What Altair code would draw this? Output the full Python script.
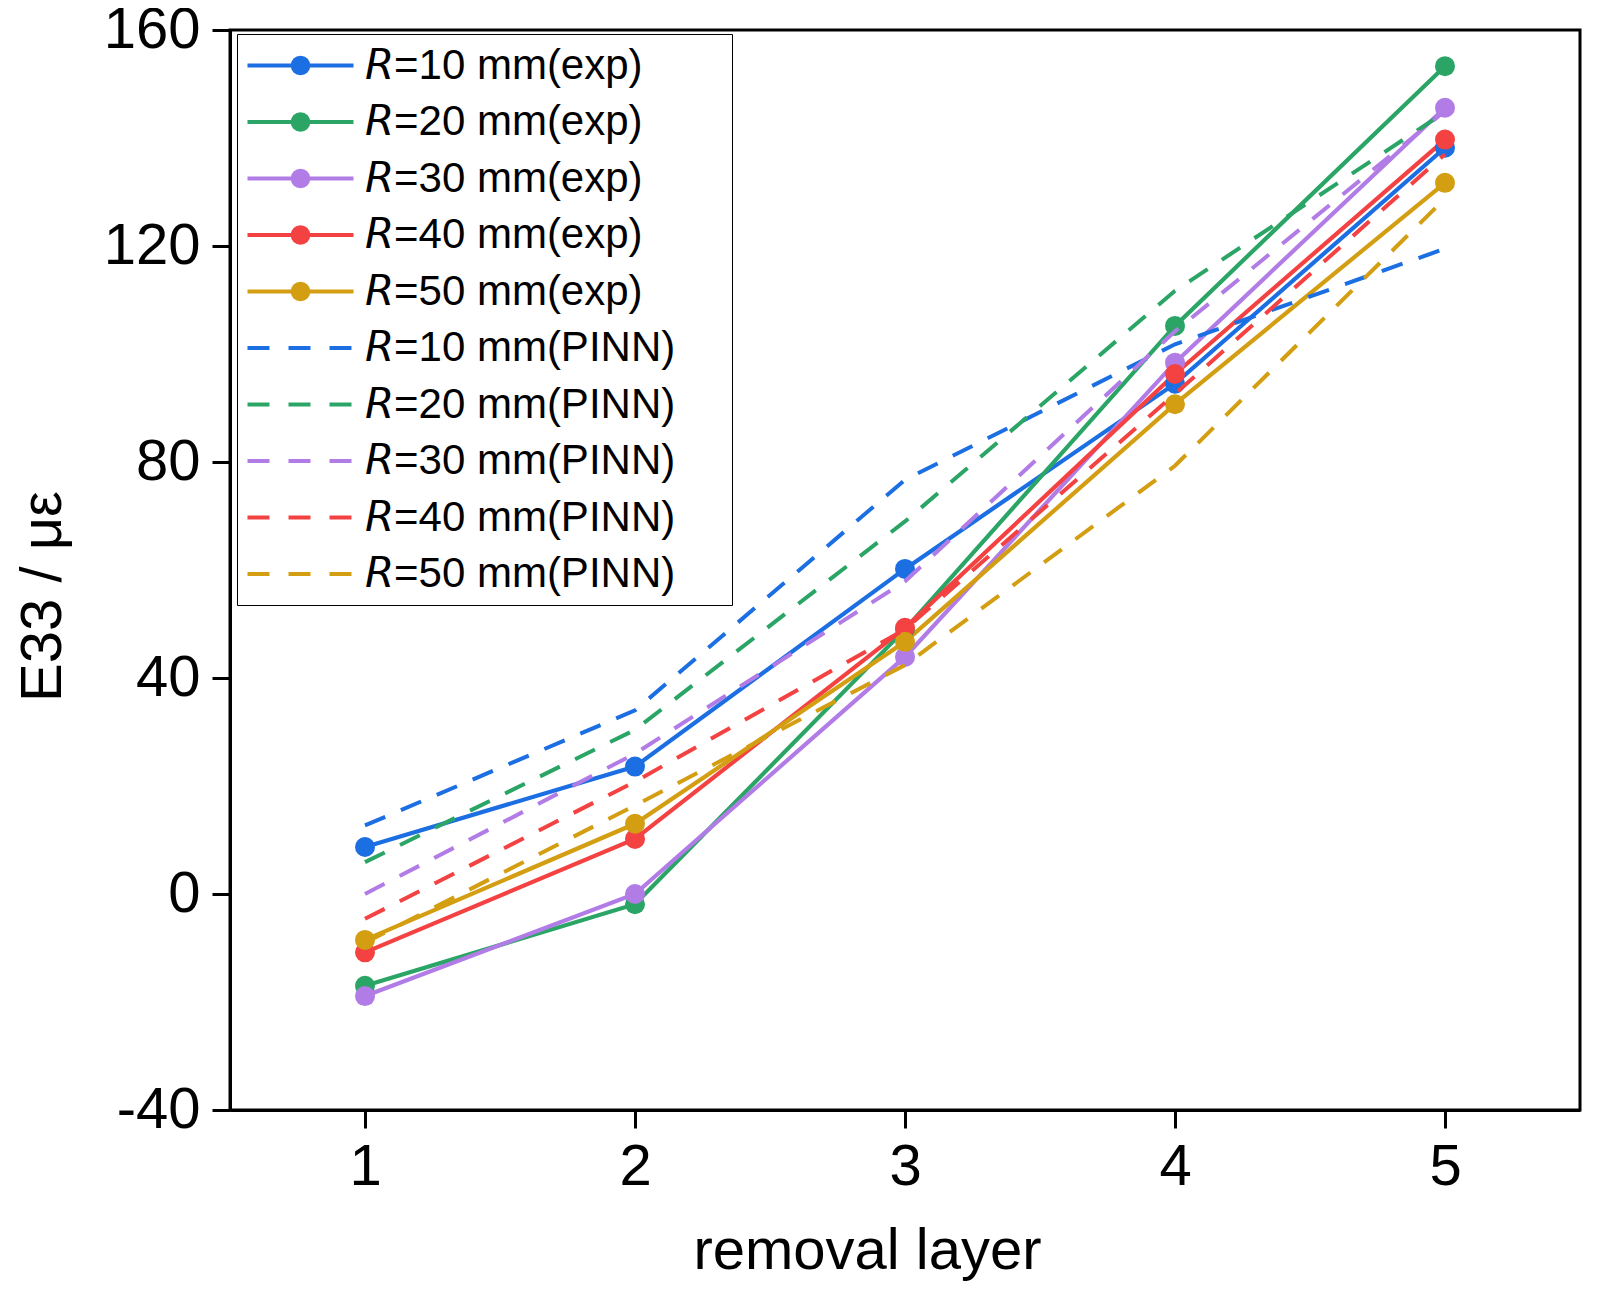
import math
import altair as alt
import pandas as pd

# ---------------- data ----------------
layers = [1, 2, 3, 4, 5]

exp_r10 = [8.7, 23.6, 60.2, 94.5, 138.2]
exp_r20 = [-17.0, -1.9, 49.0, 105.2, 153.3]
exp_r30 = [-18.9, 0.0, 43.9, 98.4, 145.6]
exp_r40 = [-10.8, 10.2, 49.3, 96.3, 139.7]
exp_r50 = [-8.5, 13.0, 46.7, 90.7, 131.7]

pinn_r10 = [12.7, 34.0, 76.7, 101.8, 119.5]
pinn_r20 = [5.9, 30.4, 69.0, 111.7, 144.8]
pinn_r30 = [0.0, 26.0, 57.9, 104.2, 145.0]
pinn_r40 = [-4.6, 20.8, 49.0, 92.6, 137.0]
pinn_r50 = [-9.0, 16.4, 42.4, 79.3, 128.8]

radii = ["10", "20", "30", "40", "50"]
colors = ["#1c6fe2", "#2aa566", "#b27ce6", "#f44242", "#d49e12"]

R_IT = "\U0001D619"   # sans-serif italic R
NBSP = "\u00a0"
ZWSP = "\u200b"       # keeps the trailing spaces from being trimmed
labels_exp = [f"{R_IT}={r} mm(exp)" for r in radii]
labels_pinn = [f"{R_IT}={r} mm(PINN)" + NBSP * 4 + ZWSP for r in radii]
all_labels = labels_exp + labels_pinn
ids_exp = [f"exp{r}" for r in radii]
ids_pinn = [f"pinn{r}" for r in radii]
all_ids = ids_exp + ids_pinn

exp_vals = [exp_r10, exp_r20, exp_r30, exp_r40, exp_r50]
pinn_vals = [pinn_r10, pinn_r20, pinn_r30, pinn_r40, pinn_r50]

rows = []
for sid, vals in zip(ids_exp, exp_vals):
    for L, v in zip(layers, vals):
        rows.append({"layer": L, "value": v, "sid": sid, "kind": "exp"})
for sid, vals in zip(ids_pinn, pinn_vals):
    for L, v in zip(layers, vals):
        rows.append({"layer": L, "value": v, "sid": sid, "kind": "PINN"})
df = pd.DataFrame(rows)
legend_df = pd.DataFrame({"series": all_labels})

FONT = "Liberation Sans, Arial, sans-serif"
DASH = [22, 17]


# ---------------- legend glyphs (unit = 19.5 px) ----------------
def ring(r, n=16):
    pts = [(r * math.cos(2 * math.pi * k / n), r * math.sin(2 * math.pi * k / n)) for k in range(n)]
    s = "M{:.3f},{:.3f}".format(*pts[0])
    for p in pts[1:]:
        s += "L{:.3f},{:.3f}".format(*p)
    return s + "Z"


HALF = 2.718
EXP_PATH = f"M{-HALF},0L{HALF},0" + ring(0.40) + ring(0.23) + ring(0.08)
dash_u, gap_u = 22 / 19.5, 19 / 19.5
segs = []
x0 = -HALF
for _ in range(3):
    segs.append(f"M{x0:.3f},0L{x0 + dash_u:.3f},0")
    x0 += dash_u + gap_u
PINN_PATH = "".join(segs)

color_scale = alt.Scale(domain=all_ids, range=colors + colors)

x_enc = alt.X("layer:Q", scale=alt.Scale(domain=[0.5, 5.5], nice=False, zero=False),
              axis=alt.Axis(values=layers, format="d", title="removal layer",
                            titleX=637, titleY=158, titleBaseline="alphabetic",
                            titleFontSize=58, titleFont=FONT, titleFontWeight="normal",
                            labelFontSize=58, labelFont=FONT, labelPadding=10,
                            tickSize=18, tickWidth=3, domainWidth=3,
                            domainColor="black", tickColor="black", labelColor="black",
                            grid=False))
y_enc = alt.Y("value:Q", scale=alt.Scale(domain=[-40, 160], nice=False, zero=False),
              axis=alt.Axis(values=[-40, 0, 40, 80, 120, 160], labelExpr="'' + datum.value",
                            title="E33 / με", titleX=-170, titleY=566, titleAngle=-90,
                            titleBaseline="alphabetic", titleFontSize=58, titleFont=FONT,
                            titleFontWeight="normal",
                            labelFontSize=58, labelFont=FONT, labelPadding=12,
                            tickSize=18, tickWidth=3, domainWidth=3,
                            domainColor="black", tickColor="black", labelColor="black",
                            grid=False))

base = alt.Chart(df)

exp_lines = base.transform_filter(alt.datum.kind == "exp").mark_line(strokeWidth=4.2).encode(
    x=x_enc, y=y_enc,
    color=alt.Color("sid:N", scale=color_scale, legend=None),
    detail="sid:N",
)
exp_points = base.transform_filter(alt.datum.kind == "exp").mark_point(
    filled=True, size=400, opacity=1, shape="circle").encode(
    x="layer:Q", y="value:Q",
    color=alt.Color("sid:N", scale=color_scale, legend=None),
)
pinn_lines = base.transform_filter(alt.datum.kind == "PINN").mark_line(
    strokeWidth=4.0, strokeDash=DASH).encode(
    x="layer:Q", y="value:Q",
    color=alt.Color("sid:N", scale=color_scale, legend=None),
    detail="sid:N",
)

leg = alt.Legend(
    title=None, orient="none", legendX=7, legendY=4, padding=10,
    strokeColor="black", fillColor="white",
    labelFont=FONT, labelFontSize=42, labelColor="black", labelLimit=2000,
    symbolSize=1521, symbolStrokeWidth=4, symbolOffset=32, labelOffset=43,
    symbolOpacity=1, rowPadding=13.5,
)
# invisible layer that only carries the legend
legend_layer = alt.Chart(legend_df).mark_point(
    filled=False, size=1521, strokeWidth=4, opacity=0).encode(
    stroke=alt.Stroke("series:N", scale=alt.Scale(domain=all_labels, range=colors + colors), legend=leg),
    shape=alt.Shape("series:N", scale=alt.Scale(domain=all_labels,
                                                 range=[EXP_PATH] * 5 + [PINN_PATH] * 5), legend=leg),
)

chart = alt.layer(exp_lines, exp_points, pinn_lines, legend_layer).properties(
    width=1350, height=1080,
    autosize=alt.AutoSizeParams(type="none"),
    padding={"left": 222, "top": 22, "right": 10, "bottom": 172},
    background="white",
).configure_view(stroke="black", strokeWidth=3)

chart.save("out.html", embed_options={"renderer": "svg", "actions": False})
